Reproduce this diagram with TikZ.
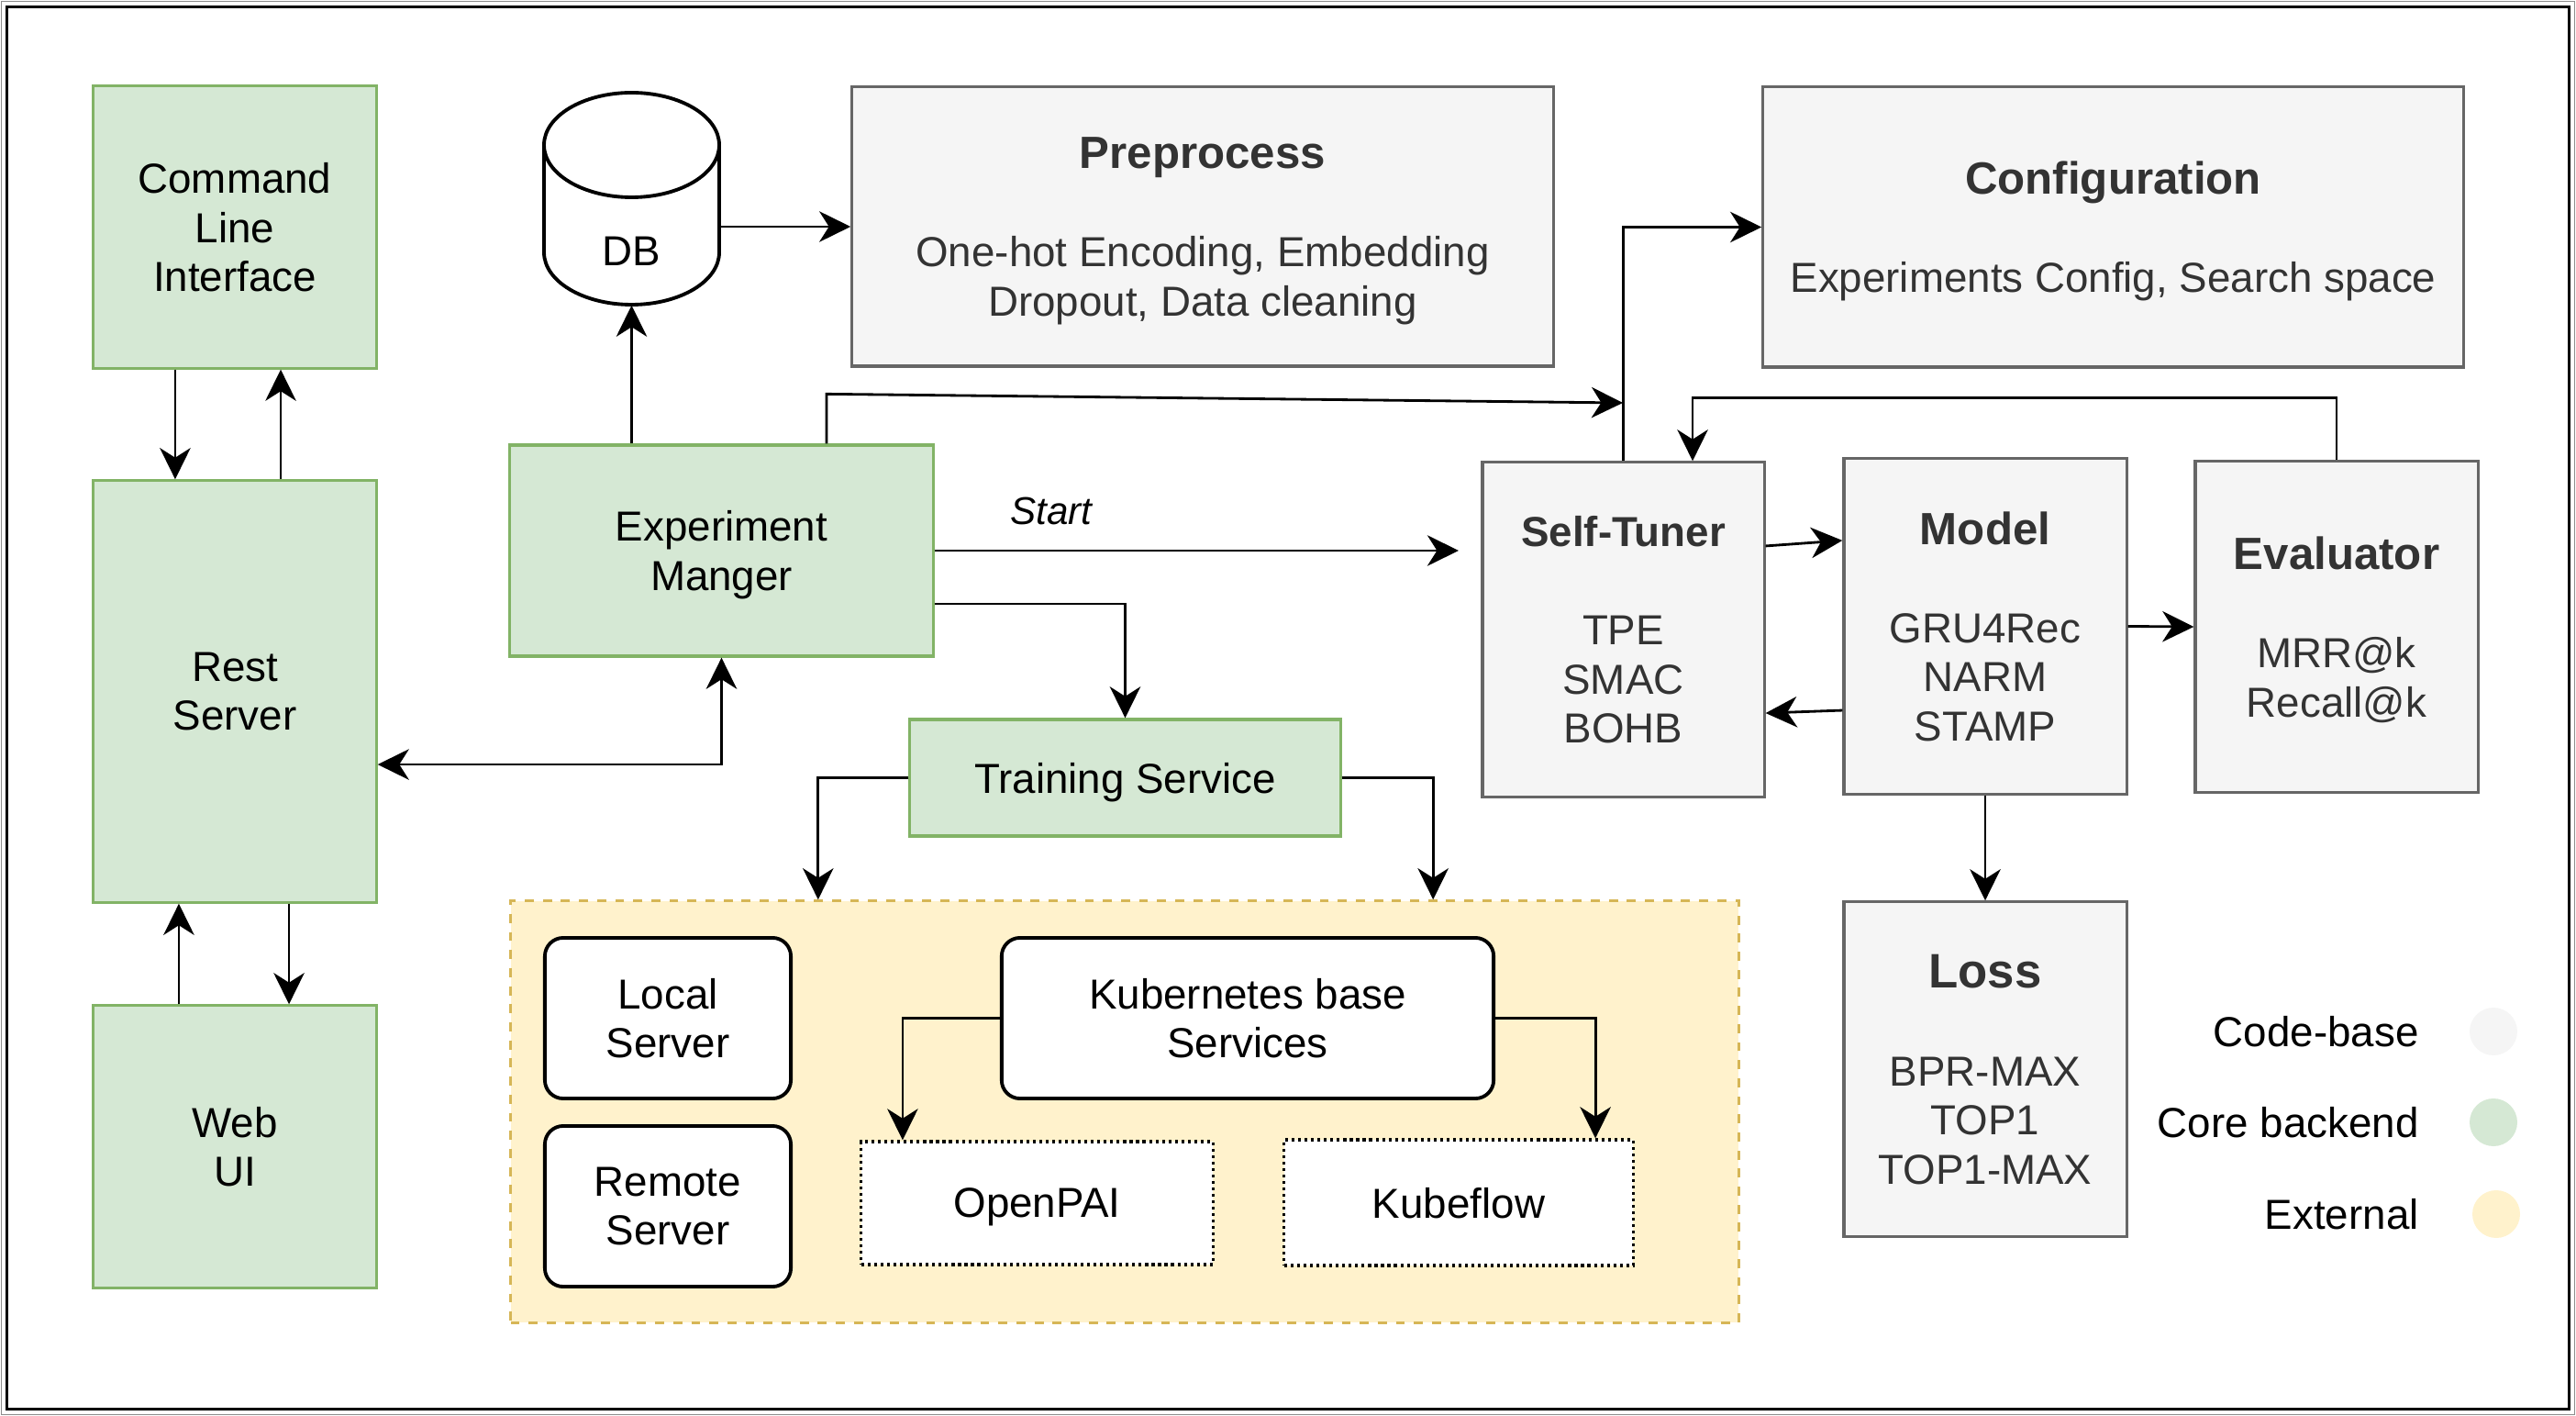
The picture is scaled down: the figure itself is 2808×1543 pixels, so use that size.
\documentclass[tikz,border=0pt]{standalone}
\usepackage{fontspec}
\setmainfont{Liberation Sans}
\usetikzlibrary{arrows.meta}
\definecolor{corefill}{HTML}{D5E8D4}
\definecolor{coreline}{HTML}{82B366}
\definecolor{codefill}{HTML}{F5F5F5}
\definecolor{codeline}{HTML}{666666}
\definecolor{codetext}{HTML}{333333}
\definecolor{extfill}{HTML}{FFF2CC}
\definecolor{extline}{HTML}{D6B656}
\newcommand\boxtitle[1]{{\fontsize{14}{15.2}\selectfont\bfseries #1}}

\begin{document}
\begin{tikzpicture}[x=0.01cm,y=-0.01cm,font=\fontsize{13}{15.2}\selectfont,
	core/.style={draw=coreline,fill=corefill,line width=0.9pt,align=center,inner sep=0pt,text depth=0pt},
	codebox/.style={draw=codeline,fill=codefill,text=codetext,line width=0.9pt,align=center,inner sep=0pt,text depth=-2.5pt},
	svc/.style={draw,fill=white,rounded corners=0.2cm,line width=1.1pt,align=center,inner sep=0pt,text depth=0pt},
	plat/.style={draw,fill=white,line width=0.9pt,dash pattern=on 0.9pt off 1.1pt,inner sep=0pt,text depth=0pt},
	arr/.style={line width=0.8pt,-{Stealth[length=9.7pt,width=9.5pt,inset=3pt]}}]
	\useasboundingbox (0,0) rectangle (2808,1543);
	\draw[black!45,line width=0.5pt] (1.5,1.5) rectangle (2806.5,1541.5);
	\draw[line width=1pt] (7.5,7.5) rectangle (2800.5,1535.5);
	\node[core,minimum width=3.08cm,minimum height=3.07cm] (cli) at (256,247.5) {Command\\Line\\Interface};
	\node[core,minimum width=3.08cm,minimum height=4.59cm] (rest) at (256,753.5) {Rest\\Server};
	\node[core,minimum width=3.08cm,minimum height=3.07cm] (webui) at (256,1249.5) {Web\\UI};
	\draw[line width=1.1pt,fill=white] (593,158)--(593,275) arc[start angle=180,end angle=0,x radius=95.5,y radius=57]--(784,158);
	\draw[line width=1.1pt,fill=white] (688.5,158) ellipse[x radius=95.5,y radius=57];
	\node[minimum width=1.91cm,minimum height=1.17cm,inner sep=0pt] (db) at (688.5,273.5) {DB};
	\node[core,minimum width=4.61cm,minimum height=2.30cm] (expmgr) at (786.5,600) {Experiment\\Manger};
	\node[core,minimum width=4.69cm,minimum height=1.27cm] (training) at (1226.5,847.5) {Training Service};
	\node[codebox,minimum width=7.64cm,minimum height=3.04cm] (prep) at (1311,247) {\boxtitle{Preprocess}\\[15.2pt]One-hot Encoding, Embedding\\Dropout, Data cleaning};
	\node[codebox,minimum width=7.63cm,minimum height=3.05cm] (config) at (2303.5,247.5) {\boxtitle{Configuration}\\[15.2pt]Experiments Config, Search space};
	\node[codebox,minimum width=3.07cm,minimum height=3.64cm] (tuner) at (1769.5,686) {{\bfseries Self-Tuner}\\[15.2pt]TPE\\SMAC\\BOHB};
	\node[codebox,minimum width=3.08cm,minimum height=3.65cm] (model) at (2164,682.5) {\boxtitle{Model}\\[15.2pt]GRU4Rec\\NARM\\STAMP};
	\node[codebox,minimum width=3.08cm,minimum height=3.60cm] (eval) at (2547,683) {\boxtitle{Evaluator}\\[15.2pt]MRR@k\\Recall@k};
	\node[codebox,minimum width=3.08cm,minimum height=3.64cm] (loss) at (2164,1165) {{\fontsize{15}{15.2}\selectfont\bfseries Loss}\\[15.2pt]BPR-MAX\\TOP1\\TOP1-MAX};
	\node[draw=extline,fill=extfill,line width=0.9pt,dash pattern=on 2.8pt off 2.8pt,minimum width=13.38cm,minimum height=4.59cm] (external) at (1226,1211.5) {};
	\node[svc,minimum width=2.68cm,minimum height=1.75cm] (local) at (728,1109.5) {Local\\Server};
	\node[svc,minimum width=2.68cm,minimum height=1.75cm] (remote) at (728,1314.5) {Remote\\Server};
	\node[svc,minimum width=5.36cm,minimum height=1.75cm] (k8s) at (1360,1109.5) {Kubernetes base\\Services};
	\node[plat,minimum width=3.83cm,minimum height=1.34cm] (openpai) at (1130.5,1311) {OpenPAI};
	\node[plat,minimum width=3.80cm,minimum height=1.37cm] (kubeflow) at (1590,1310.5) {Kubeflow};
	\coordinate (tunerjoin) at (1769,439);
	\coordinate (startend) at (1590,600);
	\draw[arr] ([xshift=-0.65cm]cli.south)--([xshift=-0.65cm]rest.north);
	\draw[arr] ([xshift=0.50cm]rest.north)--([xshift=0.50cm]cli.south);
	\draw[arr] ([xshift=-0.61cm]webui.north)--([xshift=-0.61cm]rest.south);
	\draw[arr] ([xshift=0.59cm]rest.south)--([xshift=0.59cm]webui.north);
	\draw[arr] (db.south|-expmgr.north)--(db.south);
	\draw[arr] (prep.west-|db.east)--(prep.west);
	\draw[arr] ([xshift=1.145cm]expmgr.north)--++(0,-54)--(tunerjoin);
	\draw[arr] (tuner.north)|-(config.west);
	\draw[arr] (expmgr.east)--node[pos=0.223,yshift=0.43cm,font=\fontsize{12}{14}\selectfont\itshape]{Start}(startend);
	\draw[arr] ([yshift=-0.58cm]expmgr.east)-|(training.north);
	\draw[arr,{Stealth[length=9.7pt,width=9.5pt,inset=3pt]}-{Stealth[length=9.7pt,width=9.5pt,inset=3pt]}] ([yshift=-0.795cm]rest.east)-|(expmgr.south);
	\draw[arr] (training.west)-|([xshift=-3.34cm]external.north);
	\draw[arr] (training.east)-|([xshift=3.36cm]external.north);
	\draw[arr] ([yshift=0.91cm]tuner.east)--([yshift=0.935cm]model.west);
	\draw[arr] ([yshift=-0.915cm]model.west)--([yshift=-0.91cm]tuner.east);
	\draw[arr] (model.east)--(eval.west);
	\draw[arr] (model.south)--(loss.north);
	\draw[arr] (eval.north)--++(0,-68)-|([xshift=0.755cm]tuner.north);
	\draw[arr] (k8s.west)-|([xshift=-1.465cm]openpai.north);
	\draw[arr] (k8s.east)-|([xshift=1.49cm]kubeflow.north);
	\fill[codefill] (2718,1124) circle[radius=26];
	\fill[corefill] (2718,1223) circle[radius=26];
	\fill[extfill] (2721,1323) circle[radius=26];
	\node[anchor=east] (legcode) at (2649,1124) {Code-base};
	\node[anchor=east] (legcore) at (2649,1223) {Core backend};
	\node[anchor=east] (legext) at (2649,1323) {External};
\end{tikzpicture}
\end{document}
